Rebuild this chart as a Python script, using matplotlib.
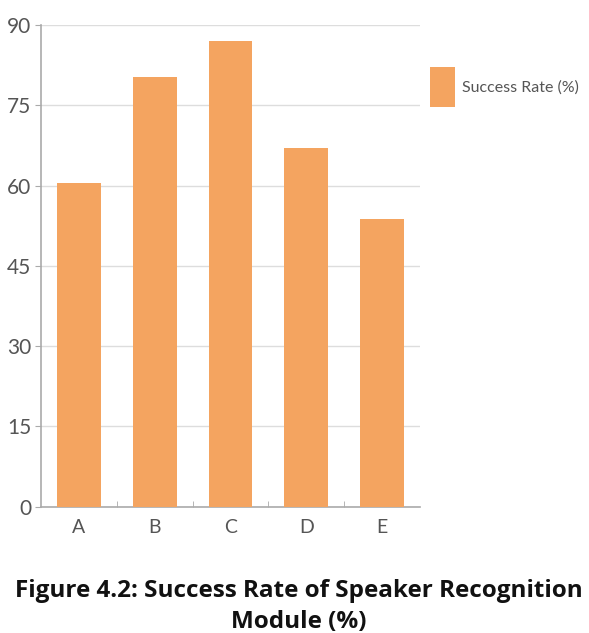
import matplotlib.pyplot as plt
from matplotlib.patches import Patch

categories = ["A", "B", "C", "D", "E"]
success_rate = [60.4, 80.3, 87.0, 67.1, 53.7]
y_ticks = [0, 15, 30, 45, 60, 75, 90]
series_name = "Success Rate (%)"
caption = "Figure 4.2: Success Rate of Speaker Recognition\nModule (%)"

bar_color = "#F4A460"
label_font = ["Lato", "DejaVu Sans"]

fig = plt.figure(figsize=(5.89, 6.33), dpi=100)
ax = fig.add_axes([0.0696, 0.1995, 0.6435, 0.761])

x = list(range(len(categories)))
ax.bar(x, success_rate, width=0.58, color=bar_color, zorder=3)

ax.set_xlim(-0.5, len(categories) - 0.5)
ax.set_ylim(0, 90)
ax.set_yticks(y_ticks)
ax.set_yticklabels([str(t) for t in y_ticks], family=label_font, fontsize=15, color="#555555")
ax.set_xticks(x)
ax.set_xticklabels(categories, family=label_font, fontsize=14, color="#555555")
ax.set_xticks([i + 0.5 for i in range(len(categories) - 1)], minor=True)

ax.tick_params(axis="x", which="major", length=0, pad=9)
ax.tick_params(axis="x", which="minor", length=4, direction="in", color="#aaaaaa")
ax.tick_params(axis="y", length=4, color="#aaaaaa", pad=3)

ax.grid(axis="y", color="#dddddd", linewidth=1, zorder=0)
for side in ["top", "right"]:
    ax.spines[side].set_visible(False)
for side in ["left", "bottom"]:
    ax.spines[side].set_color("#aaaaaa")
    ax.spines[side].set_linewidth(1.2)

# legend swatch is a tall block (about 25 x 40 px) next to the label
handle = Patch(facecolor=bar_color, edgecolor="none")
fig.legend([handle], [series_name], loc="upper left",
           bbox_to_anchor=(430 / 589, 1 - 67 / 633), frameon=False,
           borderpad=0, borderaxespad=0, handlelength=1.56, handleheight=3.47,
           handletextpad=0.45, prop={"family": label_font, "size": 11.5},
           labelcolor="#555555")

fig.text(15 / 589, 1 - 579 / 633, caption, ha="left", va="top",
         fontsize=17.5, fontweight="bold", family=["Open Sans", "DejaVu Sans"],
         color="#111111", linespacing=1.4, multialignment="center")

fig.savefig("out.png", dpi=100)
